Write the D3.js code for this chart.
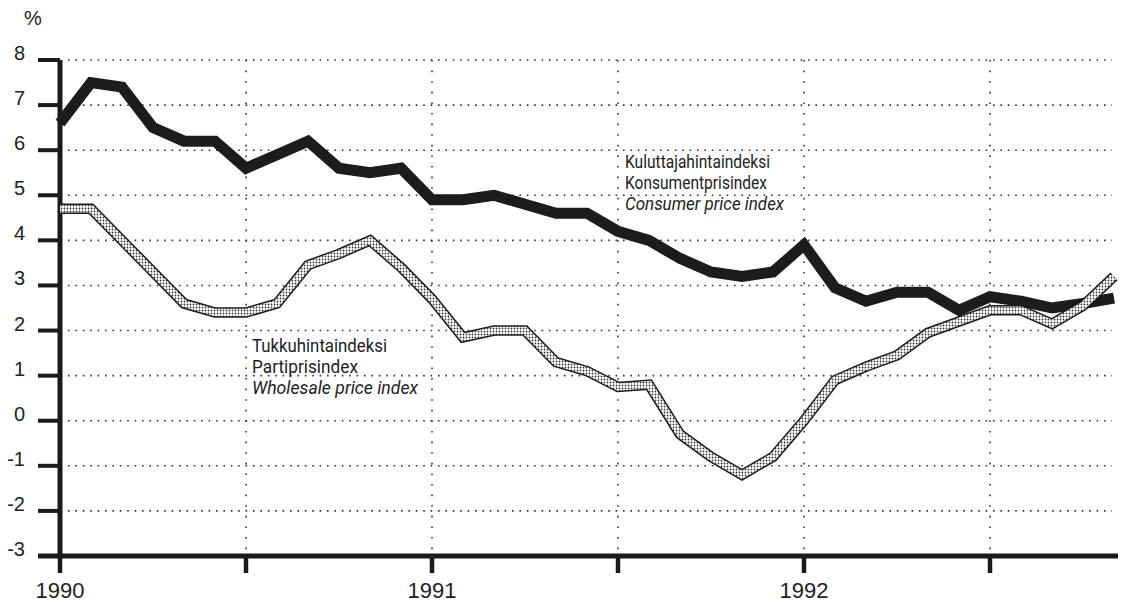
<!DOCTYPE html>
<html>
<head>
<meta charset="utf-8">
<script src="https://cdn.jsdelivr.net/npm/d3@7"></script>
<style>
    body { margin: 0; background: #fff; }
    .ylab, .xlab { font-family: "Liberation Sans", Arial, sans-serif; fill: #222; }
    .note { font-family: Roboto, "Liberation Sans", sans-serif; font-size: 18px; fill: #222; }
</style>
</head>
<body>
<script>
(function() {

    const width = 1126;
    const height = 605;

    // monthly values, Jan 1990 .. Nov 1992 (month index 0..34)
    const months = d3.range(0, 35);
    const cpi = [6.6, 7.5, 7.4, 6.5, 6.2, 6.2, 5.6, 5.9, 6.2, 5.6, 5.5, 5.6,
                 4.9, 4.9, 5.0, 4.8, 4.6, 4.6, 4.2, 4.0, 3.6, 3.3, 3.2, 3.3,
                 3.9, 2.95, 2.65, 2.85, 2.85, 2.45, 2.75, 2.65, 2.5, 2.6, 2.72];
    const wpi = [4.7, 4.7, 4.0, 3.3, 2.6, 2.4, 2.4, 2.6, 3.45, 3.7, 4.0, 3.4,
                 2.7, 1.85, 2.0, 2.0, 1.3, 1.1, 0.75, 0.8, -0.3, -0.8, -1.2, -0.8,
                 0.0, 0.9, 1.2, 1.45, 1.95, 2.2, 2.45, 2.45, 2.15, 2.55, 3.2];

    const yTicks = d3.range(-3, 9);
    const halfYearTicks = [0, 6, 12, 18, 24, 30];
    const yearTicks = [0, 12, 24];
    const yearLabels = ["1990", "1991", "1992"];

    const cpiLabel = ["Kuluttajahintaindeksi", "Konsumentprisindex", "Consumer price index"];
    const wpiLabel = ["Tukkuhintaindeksi", "Partiprisindex", "Wholesale price index"];
    // printed widths of the condensed label lines
    const cpiLabelWidth = [145, 142, 159];
    const wpiLabelWidth = [135, 106, 166];

    window.onload = function() {
        makeChart();
    }

    function makeChart() {
        let x = d3.scaleLinear().domain([0, 24]).range([60, 804]);
        let y = d3.scaleLinear().domain([-3, 8]).range([556, 60]);

        let svg = d3.select("body").append("svg")
            .attr("width", width)
            .attr("height", height);

        // dotted pattern for the wholesale line
        let pat = svg.append("defs").append("pattern")
            .attr("id", "dots")
            .attr("patternUnits", "userSpaceOnUse")
            .attr("width", 3)
            .attr("height", 3);
        pat.append("rect").attr("width", 3).attr("height", 3).attr("fill", "#fff");
        pat.append("circle").attr("cx", 1.5).attr("cy", 1.5).attr("r", 0.9).attr("fill", "#333");

        // horizontal dotted grid
        svg.selectAll(".hgrid")
            .data(yTicks.filter(d => d > -3))
            .enter()
            .append("line")
            .attr("x1", 68)
            .attr("x2", 1112)
            .attr("y1", d => y(d))
            .attr("y2", d => y(d))
            .style("stroke", "#333")
            .style("stroke-width", 1.6)
            .style("stroke-dasharray", "1.6,5.8");

        // vertical dotted grid at half years
        svg.selectAll(".vgrid")
            .data(halfYearTicks.filter(d => d > 0))
            .enter()
            .append("line")
            .attr("x1", d => x(d))
            .attr("x2", d => x(d))
            .attr("y1", y(8))
            .attr("y2", y(-3) - 4)
            .style("stroke", "#333")
            .style("stroke-width", 1.6)
            .style("stroke-dasharray", "1.6,9");

        // y axis ticks and labels
        svg.selectAll(".ytick")
            .data(yTicks)
            .enter()
            .append("line")
            .attr("x1", 38)
            .attr("x2", 60)
            .attr("y1", d => y(d))
            .attr("y2", d => y(d))
            .style("stroke", "#1a1a1a")
            .style("stroke-width", 4);

        svg.selectAll(".ylab")
            .data(yTicks)
            .enter()
            .append("text")
            .attr("class", "ylab")
            .attr("x", 25)
            .attr("y", d => y(d))
            .attr("text-anchor", "end")
            .style("font-size", "20px")
            .text(d => d);

        svg.append("text")
            .attr("class", "ylab")
            .attr("x", 24)
            .attr("y", 25)
            .style("font-size", "20px")
            .text("%");

        // x axis ticks and labels
        svg.selectAll(".xtick")
            .data(halfYearTicks)
            .enter()
            .append("line")
            .attr("x1", d => x(d))
            .attr("x2", d => x(d))
            .attr("y1", y(-3))
            .attr("y2", 573)
            .style("stroke", "#1a1a1a")
            .style("stroke-width", 4.5);

        svg.selectAll(".xlab")
            .data(yearTicks)
            .enter()
            .append("text")
            .attr("class", "xlab")
            .attr("x", d => x(d))
            .attr("y", 598)
            .attr("text-anchor", "middle")
            .style("font-size", "22px")
            .text((d, i) => yearLabels[i]);

        // axis lines
        svg.append("line")
            .attr("x1", x(0)).attr("x2", x(0))
            .attr("y1", y(8)).attr("y2", y(-3))
            .style("stroke", "#1a1a1a")
            .style("stroke-width", 5);
        svg.append("line")
            .attr("x1", 38).attr("x2", x(34) + 4)
            .attr("y1", y(-3)).attr("y2", y(-3))
            .style("stroke", "#1a1a1a")
            .style("stroke-width", 5);

        let line = d3.line()
            .x((d, i) => x(months[i]))
            .y(d => y(d));

        // consumer price index: thick black line
        svg.append("path")
            .datum(cpi)
            .attr("d", line)
            .style("fill", "none")
            .style("stroke", "#1c1c1c")
            .style("stroke-width", 11);

        // wholesale price index: outlined dotted band
        svg.append("path")
            .datum(wpi)
            .attr("d", line)
            .style("fill", "none")
            .style("stroke", "#1c1c1c")
            .style("stroke-width", 10.5);
        svg.append("path")
            .datum(wpi)
            .attr("d", line)
            .style("fill", "none")
            .style("stroke", "url(#dots)")
            .style("stroke-width", 7.5);

        // series labels (condensed type, squeezed to the printed widths)
        function addLabel(lines, widths, lx, ly) {
            svg.selectAll(null)
                .data(lines)
                .enter()
                .append("text")
                .attr("class", "note")
                .attr("x", lx)
                .attr("y", (d, i) => ly + i * 21)
                .attr("textLength", (d, i) => widths[i])
                .attr("lengthAdjust", "spacingAndGlyphs")
                .style("font-style", (d, i) => i == 2 ? "italic" : "normal")
                .text(d => d);
        }
        addLabel(cpiLabel, cpiLabelWidth, 625, 168);
        addLabel(wpiLabel, wpiLabelWidth, 252, 352);
    }
})();
</script>
</body>
</html>
